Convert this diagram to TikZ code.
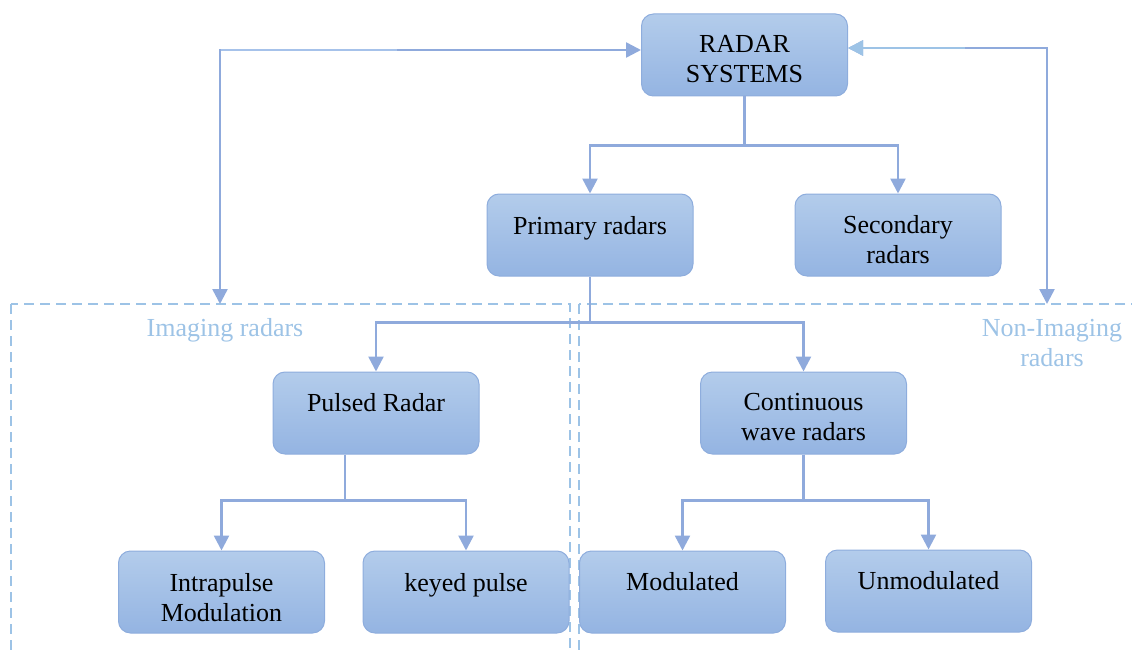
\documentclass[tikz,border=0pt]{standalone}
\usepackage{fontspec}
\setmainfont{Liberation Serif}
\usetikzlibrary{arrows.meta,calc}
\definecolor{lineblue}{HTML}{8FAADC}
\definecolor{lightblue}{HTML}{9DC3E6}
\definecolor{midblue}{HTML}{A6C2EA}
\definecolor{boxtop}{HTML}{B3CCEB}
\definecolor{boxbot}{HTML}{94B4E2}
\definecolor{boxedge}{HTML}{8EADDD}
\tikzset{
  rbox/.style={draw=boxedge, line width=1pt, rounded corners=12pt,
    top color=boxtop, bottom color=boxbot,
    minimum width=206pt, minimum height=82pt, inner sep=0pt},
  btxt/.style={anchor=north, inner sep=0pt, align=center,
    font=\fontsize{26}{30}\selectfont, text=black},
  tip/.style={Triangle[length=15pt,width=15pt]},
  conn/.style={draw=lineblue, line width=2.5pt, -{Triangle[length=15pt,width=15pt]}},
  bconn/.style={draw=lineblue, line width=2.5pt, {Triangle[length=15pt,width=15pt]}-{Triangle[length=15pt,width=15pt]}},
  region/.style={draw=lightblue, line width=2pt, dash pattern=on 10pt off 6pt},
  rlabel/.style={inner sep=0pt, align=center, font=\fontsize{26}{30}\selectfont, text=lightblue}
}
\begin{document}
\begin{tikzpicture}[x=1pt,y=-1pt]
\useasboundingbox (0,0) rectangle (1132,650);
% regions
\draw[region] (10.5,304) rectangle (570,700);
\draw[region] (579,304) rectangle (1160,700);
\node[rlabel] (imglab) at (225,330) {Imaging radars};
\node[rlabel, anchor=north] (nimglab) at (1052,319) {Non-Imaging\\radars};
% boxes
\node[rbox] (rs) at (744.5,55) {};
\node[rbox] (pr) at (590,235) {};
\node[rbox] (sr) at (898,235) {};
\node[rbox] (pu) at (376,413) {};
\node[rbox] (cw) at (803.5,413) {};
\node[rbox] (ip) at (221.5,592) {};
\node[rbox] (kp) at (466,592) {};
\node[rbox] (mo) at (682.5,592) {};
\node[rbox] (un) at (928.5,591) {};
% texts
\node[btxt] (rs-t) at ([yshift=-22pt]rs.north) {RADAR\\SYSTEMS};
\node[btxt] (pr-t) at ([yshift=-23pt]pr.north) {Primary radars};
\node[btxt] (sr-t) at ([yshift=-22pt]sr.north) {Secondary\\radars};
\node[btxt] (pu-t) at ([yshift=-22pt]pu.north) {Pulsed Radar};
\node[btxt] (cw-t) at ([yshift=-22pt]cw.north) {Continuous\\wave radars};
\node[btxt] (ip-t) at ([yshift=-23pt]ip.north) {Intrapulse\\Modulation};
\node[btxt] (kp-t) at ([yshift=-23pt]kp.north) {keyed pulse};
\node[btxt] (mo-t) at ([yshift=-22pt]mo.north) {Modulated};
\node[btxt] (un-t) at ([yshift=-22pt]un.north) {Unmodulated};
% tree connectors
\draw[conn] (rs.south) -- ++(0,49) -| (pr.north);
\draw[conn] (rs.south) -- ++(0,49) -| (sr.north);
\draw[conn] (pr.south) -- ++(0,46) -| (pu.north);
\draw[conn] (pr.south) -- ++(0,46) -| (cw.north);
\coordinate (pus) at ([xshift=-31pt]pu.south);
\draw[conn] (pus) -- ++(0,46) -| (ip.north);
\draw[conn] (pus) -- ++(0,46) -| (kp.north);
\draw[conn] (cw.south) -- ++(0,46) -| (mo.north);
\draw[conn] (cw.south) -- ++(0,46) -| (un.north);
% side loops
\coordinate (imgtop) at (220,304);
\coordinate (nimgtop) at (1047,304);
\coordinate (lmid) at (397,50);
\coordinate (rmid) at (965,48);
\draw[bconn] (imgtop) |- ([yshift=5pt]rs.west);
\draw[draw=midblue, line width=2.5pt] (221.25,50) -- (lmid);
\draw[bconn] (nimgtop) |- ([yshift=7pt]rs.east);
\draw[draw=lightblue, line width=2.5pt, -{Triangle[length=15pt,width=15pt]}] (rmid) -- ([yshift=7pt]rs.east);
\end{tikzpicture}
\end{document}
